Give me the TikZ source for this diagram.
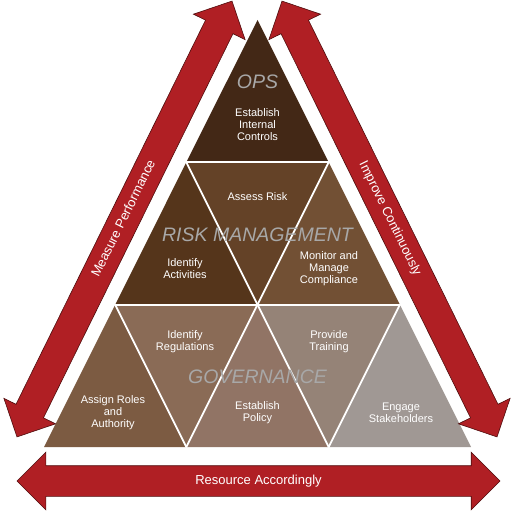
\documentclass[tikz,border=0pt]{standalone}
\usepackage{fontspec}
\setmainfont{Liberation Sans}
\usepackage{tikz}
\usetikzlibrary{shapes,positioning}
\definecolor{grcred}{RGB}{176,31,36}
\definecolor{grcredline}{RGB}{80,14,14}
\definecolor{grcops}{RGB}{67,40,22}
\definecolor{grcactiv}{RGB}{85,53,27}
\definecolor{grcrisk}{RGB}{100,66,39}
\definecolor{grcmon}{RGB}{114,80,52}
\definecolor{grcroles}{RGB}{124,91,66}
\definecolor{grcregs}{RGB}{138,107,86}
\definecolor{grcpolicy}{RGB}{145,116,101}
\definecolor{grctrain}{RGB}{149,131,119}
\definecolor{grcstake}{RGB}{160,152,148}
\definecolor{grclabel}{RGB}{168,168,168}
\tikzstyle{seam} = [draw=white, line width=1.8pt, line cap=round]
\tikzstyle{tiletext} = [text=white, align=center, font=\fontsize{11}{12}\selectfont]
\tikzstyle{layer} = [text=grclabel, font=\fontsize{19.5}{22}\selectfont\itshape]
\tikzstyle{cyclearrow} = [double arrow, double arrow head extend=13.5pt, fill=grcred, draw=grcredline, line width=0.6pt, text=white, font=\fontsize{13}{15}\selectfont, text height=9pt, text depth=3pt, inner ysep=9pt, inner xsep=0pt]
\begin{document}
\begin{tikzpicture}[x=1pt, y=1pt]
\useasboundingbox (0,0) rectangle (518,511);
% triangle grid
\coordinate (p00) at (44,64);
\coordinate (p01) at (186.33,64);
\coordinate (p02) at (328.67,64);
\coordinate (p03) at (471,64);
\coordinate (p10) at (115.17,206.33);
\coordinate (p11) at (257.5,206.33);
\coordinate (p12) at (399.83,206.33);
\coordinate (p20) at (186.33,348.67);
\coordinate (p21) at (328.67,348.67);
\coordinate (p30) at (257.5,491);

% tiles
\fill[grcops] (p20) -- (p21) -- (p30) -- cycle;
\fill[grcactiv] (p10) -- (p11) -- (p20) -- cycle;
\fill[grcrisk] (p20) -- (p21) -- (p11) -- cycle;
\fill[grcmon] (p11) -- (p12) -- (p21) -- cycle;
\fill[grcroles] (p00) -- (p01) -- (p10) -- cycle;
\fill[grcregs] (p10) -- (p11) -- (p01) -- cycle;
\fill[grcpolicy] (p01) -- (p02) -- (p11) -- cycle;
\fill[grctrain] (p11) -- (p12) -- (p02) -- cycle;
\fill[grcstake] (p02) -- (p03) -- (p12) -- cycle;

\draw[seam] (p10) -- (p12) (p20) -- (p21);
\draw[seam] (p01) -- (p21) (p02) -- (p12);
\draw[seam] (p01) -- (p10) (p02) -- (p20);

% texts
\node (controls) [tiletext] at (257.5,386) {Establish\\Internal\\Controls};
\node (ops) [layer] at (257.5,429) {OPS};
\node (assess) [tiletext] at (257.5,314) {Assess Risk};
\node (riskmgmt) [layer] at (257.5,276) {RISK MANAGEMENT};
\node (activities) [tiletext] at (185,242) {Identify\\Activities};
\node (monitor) [tiletext] at (329,242) {Monitor and\\Manage\\Compliance};
\node (regulations) [tiletext] at (185,169.5) {Identify\\Regulations};
\node (training) [tiletext] at (329,169.5) {Provide\\Training};
\node (governance) [layer] at (257.5,134) {GOVERNANCE};
\node (roles) [tiletext] at (113,98) {Assign Roles\\and\\Authority};
\node (policy) [tiletext] at (257.5,98.5) {Establish\\Policy};
\node (stakeholders) [tiletext] at (401,98.5) {Engage\\Stakeholders};

% cycle arrows
\node (measure) [cyclearrow, minimum height=486pt, rotate=63.74] at (124.5,292) {Measure Performance};
\node (improve) [cyclearrow, minimum height=486pt, rotate=-63.74] at (389.5,292) {Improve Continuously};
\node (resource) [cyclearrow, minimum height=483pt] at (258.5,30) {Resource Accordingly};
\end{tikzpicture}
\end{document}
